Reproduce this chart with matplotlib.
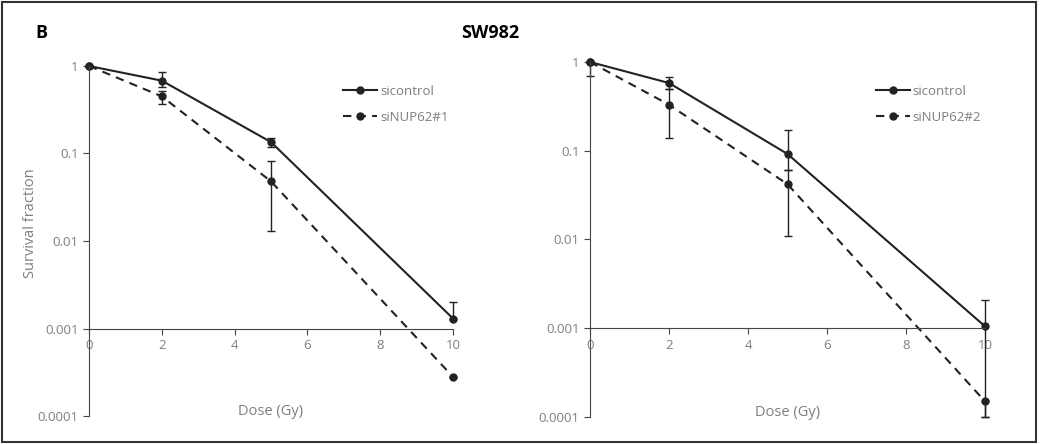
import numpy as np
import matplotlib
matplotlib.use('Agg')
import matplotlib.pyplot as plt
from matplotlib.patches import Rectangle
from matplotlib.lines import Line2D

plt.rcParams['font.family'] = ['Open Sans', 'DejaVu Sans']

dose = [0, 2, 5, 10]

# left panel: sicontrol vs siNUP62#1
ctrl_1 = [1.0, 0.68, 0.135, 0.0013]
ctrl_1_lo = [1.0, 0.58, 0.12, 0.0013]
ctrl_1_hi = [1.0, 0.85, 0.15, 0.002]
nup_1 = [1.0, 0.45, 0.048, 0.00028]
nup_1_lo = [1.0, 0.37, 0.013, 0.00028]
nup_1_hi = [1.0, 0.52, 0.083, 0.00028]

# right panel: sicontrol vs siNUP62#2
ctrl_2 = [1.0, 0.58, 0.092, 0.00105]
ctrl_2_lo = [1.0, 0.49, 0.06, 0.0001]
ctrl_2_hi = [1.0, 0.68, 0.17, 0.0021]
nup_2 = [1.0, 0.33, 0.042, 0.00015]
nup_2_lo = [0.7, 0.14, 0.011, 0.0001]
nup_2_hi = [1.0, 0.50, 0.06, 0.00015]

legend_1 = ['sicontrol', 'siNUP62#1']
legend_2 = ['sicontrol', 'siNUP62#2']

gray = '#7f7f7f'
dark = '#222222'
dash = (0, (4, 3))

fig = plt.figure(figsize=(10.42, 4.44), dpi=100)
fig.patches.append(Rectangle((0.002, 0.004), 0.992, 0.992, transform=fig.transFigure,
                             fill=False, edgecolor='#333333', linewidth=1.5))

ax1 = fig.add_axes([89/1042, 1-416/444, 364/1042, 350/444])
ax2 = fig.add_axes([590/1042, 1-417/444, 395/1042, 355/444])


def draw(ax, c, clo, chi, n, nlo, nhi, labels, leg_y):
    c, clo, chi = np.array(c), np.array(clo), np.array(chi)
    n, nlo, nhi = np.array(n), np.array(nlo), np.array(nhi)
    e1 = ax.errorbar(dose, c, yerr=[c-clo, chi-c], color=dark, lw=1.5, marker='o', ms=5,
                     capsize=3, elinewidth=1)
    e2 = ax.errorbar(dose, n, yerr=[n-nlo, nhi-n], color=dark, lw=1.5, ls=dash,
                     marker='o', ms=5, capsize=3, elinewidth=1)
    for e in (e1, e2):
        for art in e.get_children():
            art.set_clip_on(False)
    ax.set_yscale('log')
    ax.set_ylim(0.0001, 1)
    ax.set_xlim(0, 10)
    ax.set_yticks([1, 0.1, 0.01, 0.001, 0.0001])
    ax.set_yticklabels(['1', '0.1', '0.01', '0.001', '0.0001'])
    ax.minorticks_off()
    ax.set_xticks([0, 2, 4, 6, 8, 10])
    ax.spines['top'].set_visible(False)
    ax.spines['right'].set_visible(False)
    ax.spines['bottom'].set_position(('data', 0.001))
    ax.spines['left'].set_color('#444444')
    ax.spines['bottom'].set_color('#444444')
    ax.tick_params(axis='both', colors='#444444', labelcolor=gray, labelsize=9.5, length=4)
    ax.set_xlabel('Dose (Gy)', color=gray, fontsize=10.5)
    ax.xaxis.set_label_coords(0.5, 0.035)
    handles = [Line2D([], [], color=dark, lw=1.5, marker='o', ms=5),
               Line2D([], [], color=dark, lw=1.5, ls=dash, marker='o', ms=5)]
    leg = ax.legend(handles, labels, loc='upper right', bbox_to_anchor=(1.02, leg_y),
                    frameon=False, fontsize=9.5, labelspacing=1.0, handlelength=2.6,
                    handletextpad=0.2)
    for t in leg.get_texts():
        t.set_color(gray)


draw(ax1, ctrl_1, ctrl_1_lo, ctrl_1_hi, nup_1, nup_1_lo, nup_1_hi, legend_1, 0.98)
draw(ax2, ctrl_2, ctrl_2_lo, ctrl_2_hi, nup_2, nup_2_lo, nup_2_hi, legend_2, 0.97)

ax1.set_ylabel('Survival fraction', color=gray, fontsize=10.5)
ax1.yaxis.set_label_coords(-0.14, 0.55)

fig.text(35/1042, 1-33/444, 'B', fontsize=13, fontweight='bold', va='center')
fig.text(490/1042, 1-33/444, 'SW982', fontsize=13, fontweight='bold', va='center', ha='center')

fig.savefig('out.png', dpi=100)
